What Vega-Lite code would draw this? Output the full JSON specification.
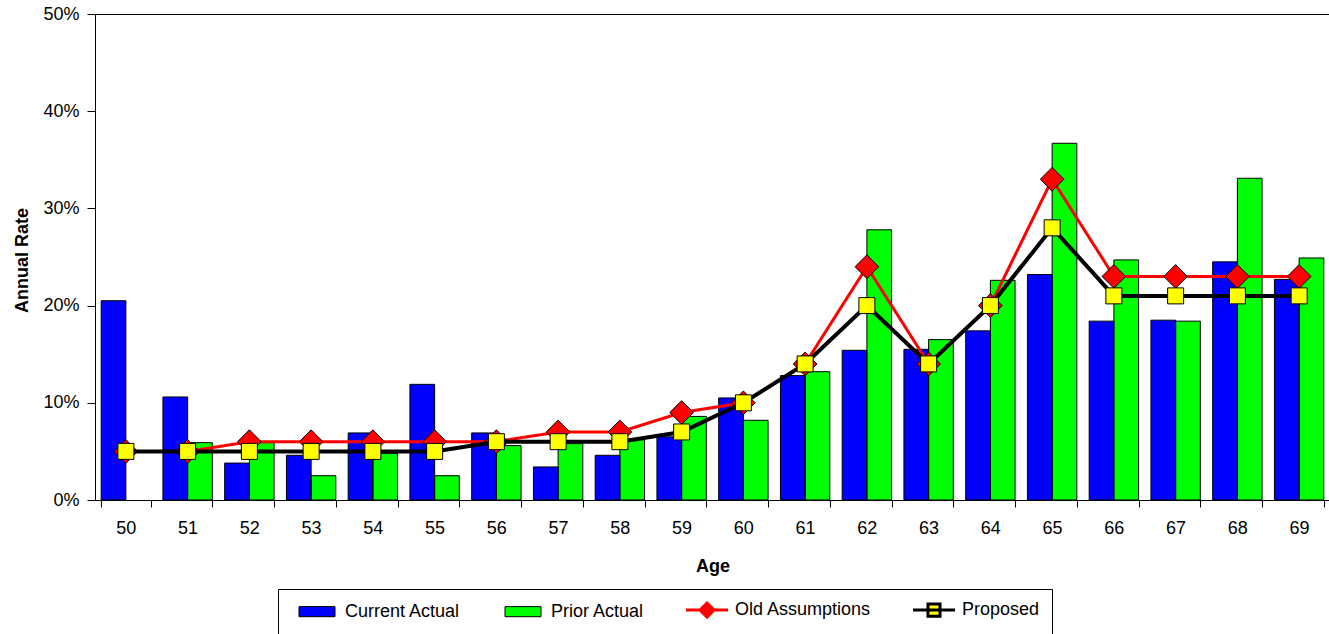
{
  "$schema": "https://vega.github.io/schema/vega-lite/v6.json",
  "width": 1235,
  "height": 486,
  "autosize": "none",
  "padding": {"left": 95, "top": 14, "right": 0, "bottom": 134},
  "background": "white",
  "config": {
    "view": {"stroke": "black", "strokeWidth": 1},
    "font": "Liberation Sans",
    "axis": {
      "domainColor": "black",
      "tickColor": "black",
      "labelColor": "black",
      "titleColor": "black",
      "labelFont": "Liberation Sans",
      "titleFont": "Liberation Sans",
      "labelFontSize": 18,
      "titleFontSize": 18,
      "titleFontWeight": "bold",
      "grid": false,
      "domainWidth": 1,
      "tickWidth": 1
    },
    "legend": {
      "labelFont": "Liberation Sans",
      "labelFontSize": 18,
      "labelColor": "black"
    }
  },
  "datasets": {
    "bars": [
      {"age": 50, "series": "Current Actual", "rate": 0.205},
      {"age": 51, "series": "Current Actual", "rate": 0.106},
      {"age": 51, "series": "Prior Actual", "rate": 0.059},
      {"age": 52, "series": "Current Actual", "rate": 0.038},
      {"age": 52, "series": "Prior Actual", "rate": 0.059},
      {"age": 53, "series": "Current Actual", "rate": 0.046},
      {"age": 53, "series": "Prior Actual", "rate": 0.025},
      {"age": 54, "series": "Current Actual", "rate": 0.069},
      {"age": 54, "series": "Prior Actual", "rate": 0.048},
      {"age": 55, "series": "Current Actual", "rate": 0.119},
      {"age": 55, "series": "Prior Actual", "rate": 0.025},
      {"age": 56, "series": "Current Actual", "rate": 0.069},
      {"age": 56, "series": "Prior Actual", "rate": 0.056},
      {"age": 57, "series": "Current Actual", "rate": 0.034},
      {"age": 57, "series": "Prior Actual", "rate": 0.058},
      {"age": 58, "series": "Current Actual", "rate": 0.046},
      {"age": 58, "series": "Prior Actual", "rate": 0.062},
      {"age": 59, "series": "Current Actual", "rate": 0.065},
      {"age": 59, "series": "Prior Actual", "rate": 0.086},
      {"age": 60, "series": "Current Actual", "rate": 0.105},
      {"age": 60, "series": "Prior Actual", "rate": 0.082},
      {"age": 61, "series": "Current Actual", "rate": 0.128},
      {"age": 61, "series": "Prior Actual", "rate": 0.132},
      {"age": 62, "series": "Current Actual", "rate": 0.154},
      {"age": 62, "series": "Prior Actual", "rate": 0.278},
      {"age": 63, "series": "Current Actual", "rate": 0.155},
      {"age": 63, "series": "Prior Actual", "rate": 0.165},
      {"age": 64, "series": "Current Actual", "rate": 0.174},
      {"age": 64, "series": "Prior Actual", "rate": 0.226},
      {"age": 65, "series": "Current Actual", "rate": 0.232},
      {"age": 65, "series": "Prior Actual", "rate": 0.367},
      {"age": 66, "series": "Current Actual", "rate": 0.184},
      {"age": 66, "series": "Prior Actual", "rate": 0.247},
      {"age": 67, "series": "Current Actual", "rate": 0.185},
      {"age": 67, "series": "Prior Actual", "rate": 0.184},
      {"age": 68, "series": "Current Actual", "rate": 0.245},
      {"age": 68, "series": "Prior Actual", "rate": 0.331},
      {"age": 69, "series": "Current Actual", "rate": 0.227},
      {"age": 69, "series": "Prior Actual", "rate": 0.249}
    ],
    "lines": [
      {"age": 50, "old": 0.05, "proposed": 0.05},
      {"age": 51, "old": 0.05, "proposed": 0.05},
      {"age": 52, "old": 0.06, "proposed": 0.05},
      {"age": 53, "old": 0.06, "proposed": 0.05},
      {"age": 54, "old": 0.06, "proposed": 0.05},
      {"age": 55, "old": 0.06, "proposed": 0.05},
      {"age": 56, "old": 0.06, "proposed": 0.06},
      {"age": 57, "old": 0.07, "proposed": 0.06},
      {"age": 58, "old": 0.07, "proposed": 0.06},
      {"age": 59, "old": 0.09, "proposed": 0.07},
      {"age": 60, "old": 0.10, "proposed": 0.10},
      {"age": 61, "old": 0.14, "proposed": 0.14},
      {"age": 62, "old": 0.24, "proposed": 0.20},
      {"age": 63, "old": 0.14, "proposed": 0.14},
      {"age": 64, "old": 0.20, "proposed": 0.20},
      {"age": 65, "old": 0.33, "proposed": 0.28},
      {"age": 66, "old": 0.23, "proposed": 0.21},
      {"age": 67, "old": 0.23, "proposed": 0.21},
      {"age": 68, "old": 0.23, "proposed": 0.21},
      {"age": 69, "old": 0.23, "proposed": 0.21}
    ]
  },
  "encoding": {
    "x": {
      "field": "age",
      "type": "ordinal",
      "scale": {"paddingInner": 0.2, "paddingOuter": 0.1},
      "axis": {
        "title": "Age",
        "labelAngle": 0,
        "tickBand": "extent",
        "tickSize": 7,
        "labelPadding": 12,
        "titlePadding": 20
      }
    }
  },
  "layer": [
    {
      "data": {"name": "bars"},
      "mark": {"type": "bar", "opacity": 1},
      "encoding": {
        "xOffset": {"field": "series", "type": "nominal", "scale": {"domain": ["Current Actual", "Prior Actual"], "paddingInner": 0, "paddingOuter": 0}},
        "y": {
          "field": "rate",
          "type": "quantitative",
          "scale": {"domain": [0, 0.5], "nice": false},
          "axis": {
            "title": "Annual Rate",
            "format": ".0%",
            "values": [0, 0.1, 0.2, 0.3, 0.4, 0.5],
            "tickSize": 8,
            "labelPadding": 8,
            "titlePadding": 11,
            "titleY": 246
          }
        },
        "color": {
          "field": "series",
          "type": "nominal",
          "scale": {
            "domain": ["Current Actual", "Prior Actual", "Old Assumptions", "Proposed"],
            "range": ["#0000FF", "#00FF00", "#FF0000", "#FFFF00"]
          },
          "legend": {
            "title": null,
            "orient": "none",
            "legendX": 183,
            "legendY": 575,
            "direction": "horizontal",
            "columns": 4,
            "padding": 12,
            "strokeColor": "black",
            "fillColor": "white",
            "symbolSize": 324,
            "symbolOffset": 18,
            "labelOffset": 19,
            "columnPadding": 35,
            "labelFontSize": 18,
            "symbolType": {"expr": "datum.value === 'Old Assumptions' ? 'M0,-1.2L0,-1.2M0,1.2L0,1.2M-2.33,0H2.33M-0.78,0L0,-0.78L0.78,0L0,0.78Z' : datum.value === 'Proposed' ? 'M0,-1.2L0,-1.2M0,1.2L0,1.2M-2.33,0H2.33M-0.67,-0.67H0.67V0.67H-0.67Z' : 'M0,-1.3L0,-1.3M0,1.3L0,1.3M-2,-0.56H2V0.56H-2Z'"},
            "symbolStrokeColor": {"expr": "datum.value === 'Old Assumptions' ? '#FF0000' : '#000000'"},
            "symbolStrokeWidth": {"expr": "datum.value === 'Old Assumptions' || datum.value === 'Proposed' ? 3 : 1"},
            "symbolOpacity": 1
          }
        }
      }
    },
    {
      "data": {"name": "bars"},
      "mark": {"type": "bar", "fill": "transparent", "stroke": "black", "strokeWidth": 1},
      "encoding": {
        "xOffset": {"field": "series", "type": "nominal"},
        "y": {"field": "rate", "type": "quantitative"}
      }
    },
    {
      "data": {"name": "lines"},
      "mark": {"type": "line", "color": "#FF0000", "strokeWidth": 3},
      "encoding": {"y": {"field": "old", "type": "quantitative"}}
    },
    {
      "data": {"name": "lines"},
      "mark": {"type": "point", "shape": "diamond", "filled": true, "fill": "#FF0000", "stroke": "black", "strokeWidth": 1, "size": 560, "opacity": 1},
      "encoding": {"y": {"field": "old", "type": "quantitative"}}
    },
    {
      "data": {"name": "lines"},
      "mark": {"type": "line", "color": "#000000", "strokeWidth": 4},
      "encoding": {"y": {"field": "proposed", "type": "quantitative"}}
    },
    {
      "data": {"name": "lines"},
      "mark": {"type": "point", "shape": "square", "filled": true, "fill": "#FFFF00", "stroke": "black", "strokeWidth": 1, "size": 256, "opacity": 1},
      "encoding": {"y": {"field": "proposed", "type": "quantitative"}}
    }
  ]
}
